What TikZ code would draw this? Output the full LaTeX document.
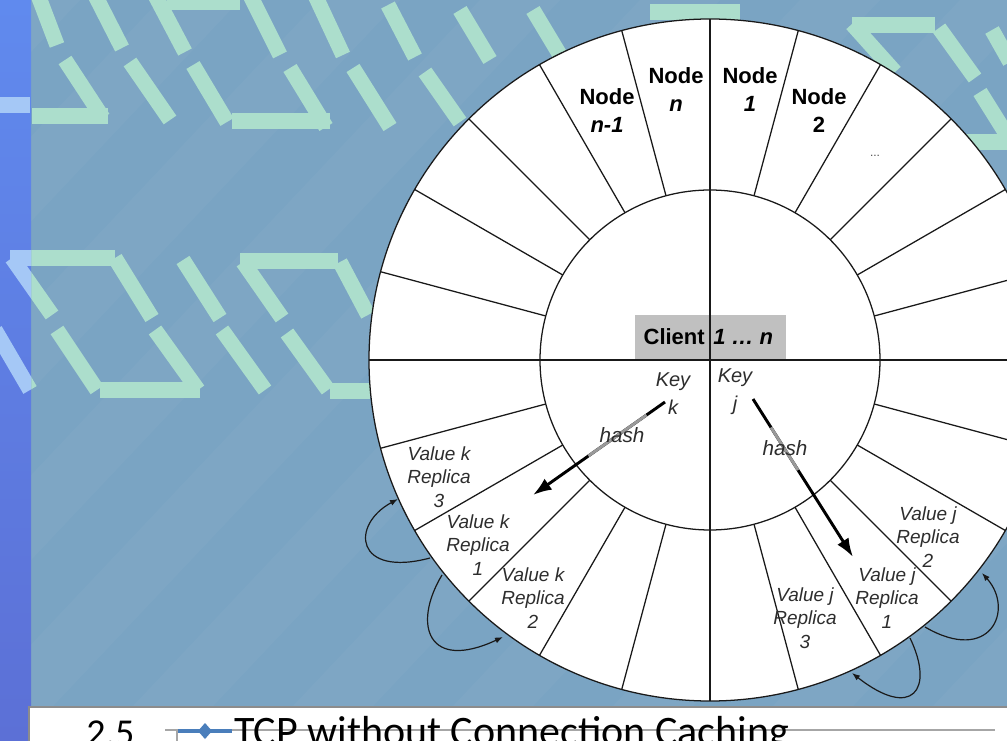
\documentclass[tikz,border=0pt]{standalone}
\usepackage{fontspec}
\setmainfont{Liberation Sans}
\newfontfamily\calib{Carlito}
\usetikzlibrary{arrows.meta,calc}
\definecolor{bgblue}{RGB}{122,164,195}
\definecolor{segg}{RGB}{172,222,204}
\definecolor{stripA}{RGB}{96,138,238}
\definecolor{stripB}{RGB}{92,112,214}
\definecolor{lseg}{RGB}{165,200,246}
\definecolor{ink}{RGB}{25,25,25}
\definecolor{txtg}{RGB}{45,45,45}
\definecolor{boxg}{RGB}{192,192,192}
\definecolor{tcpblue}{RGB}{74,126,187}
\definecolor{frameg}{RGB}{140,140,140}
\newcommand\bgsegments[1]{%
  \foreach \xa/\ya/\xb/\yb in {
     38/-5/57/45, 95/-5/122/48, 155/-5/185/52, 250/-5/280/55, 315/-5/343/55,
     388/5/415/57, 460/10/490/60, 533/10/560/55,
     65/60/103/118, 130/62/170/120, 193/65/227/122, 290/68/326/127,
     353/68/390/127, 425/72/460/122,
     32/116/108/116, 232/121/330/121, 167/2/240/2, 650/12/740/12,
     10/258/115/258, 240/261/338/261,
     12/258/52/315, 115/258/152/318, 183/260/220/318, 243/262/282/318, 340/262/368/315,
     57/330/97/390, 155/330/198/390, 222/330/265/390, 287/333/328/390,
     100/390/200/390, 330/391/370/391,
     852/25/935/25, 852/24/895/72, 939/28/975/78, 992/30/1010/62,
     980/92/1010/140, 965/142/1010/142,
     -10/105/30/105, -5/330/30/390}
  {\draw[bgseg,#1] (\xa,\ya) -- (\xb,\yb);}%
}
\begin{document}
\begin{tikzpicture}[x=0.75pt,y=-0.75pt,
  ring/.style={draw=ink,line width=0.95pt},
  nodelbl/.style={font=\fontsize{16.5pt}{21pt}\selectfont\bfseries, align=center, inner sep=0pt, text=black},
  vallbl/.style={font=\fontsize{14.25pt}{17.6pt}\selectfont\itshape, align=center, inner sep=0pt, text=txtg},
  keylbl/.style={font=\fontsize{15pt}{21pt}\selectfont\itshape, align=center, inner sep=0pt, text=txtg},
  hashlbl/.style={font=\fontsize{15.5pt}{18pt}\selectfont\itshape, inner sep=0pt, text=txtg},
  hasharrow/.style={line width=2.2pt, draw=black, -{Latex[length=14pt,width=10pt]}},
  hashfade/.style={line width=2.2pt, draw=black!40},
  looparrow/.style={line width=0.9pt, draw=ink, -{Latex[length=6pt,width=4.5pt]}},
  bgseg/.style={line width=11.5pt, line cap=butt}
]
\useasboundingbox (0,0) rectangle (1007,741);
\begin{scope}
\clip (0,0) rectangle (1007,741);
% background
\fill[bgblue] (0,0) rectangle (1007,741);
\foreach \d in {0,160,...,1600}{
  \fill[white,opacity=0.03] (\d-700,741) -- (\d-620,741) -- (\d+80,0) -- (\d,0) -- cycle;}
\bgsegments{draw=segg}
% left strip
\begin{scope}
\clip (0,0) rectangle (31,741);
\shade[top color=stripA,bottom color=stripB] (0,0) rectangle (31,741);
\bgsegments{draw=lseg}
\end{scope}

% ring
\coordinate (C) at (710,360);
\fill[white] (C) circle (255.75pt);
\foreach \a in {0,15,...,345}{
  \draw[ring] ($(C)+(\a:170)$) -- ($(C)+(\a:341)$);}
\draw[ring] (C) circle (255.75pt);
\draw[ring] (C) circle (127.5pt);
% client box
\fill[boxg] (635,315) rectangle (786,359);
\draw[draw=ink,line width=1.2pt] ($(C)+(180:341)$) -- ($(C)+(0:341)$);
\draw[draw=ink,line width=1.1pt] ($(C)+(90:341)$) -- ($(C)+(270:341)$);
\node[nodelbl,anchor=east] (cl) at (705,337) {Client};
\node[nodelbl,anchor=west] (cn) at (713,337) {\textit{1 … n}};

% node labels
\node[nodelbl] (nm1) at (607,111) {Node\\\textit{n-1}};
\node[nodelbl] (nn) at (676,90) {Node\\\textit{n}};
\node[nodelbl] (n1) at (750,90) {Node\\\textit{1}};
\node[nodelbl] (n2) at (819,111) {Node\\2};
\node[font=\fontsize{9pt}{10pt}\selectfont, text=black!70, inner sep=0pt] (dots) at (875,156) {...};

% keys
\node[keylbl] (kk) at (673,394) {Key\\k};
\node[keylbl] (kj) at (735,392) {Key\\j};

% value labels
\node[vallbl] (vk3) at (439,477) {Value k\\Replica\\3};
\node[vallbl] (vk1) at (478,545) {Value k\\Replica\\1};
\node[vallbl] (vk2) at (533,598) {Value k\\Replica\\2};
\node[vallbl] (vj2) at (928,537) {Value j\\Replica\\2};
\node[vallbl] (vj1) at (887,598) {Value j\\Replica\\1};
\node[vallbl] (vj3) at (805,618) {Value j\\Replica\\3};

% hash arrows
\coordinate (ks) at (665,402);
\coordinate (ke) at (533,495);
\coordinate (js) at (753,399);
\coordinate (je) at (853,557);
\draw[hasharrow] (ks) -- (ke);
\draw[hashfade] ($(ks)!0.14!(ke)$) -- ($(ks)!0.58!(ke)$);
\draw[hasharrow] (js) -- (je);
\draw[hashfade] ($(js)!0.18!(je)$) -- ($(js)!0.45!(je)$);
\node[hashlbl] (hk) at (622,435) {hash};
\node[hashlbl] (hj) at (785,448) {hash};

% replica loops
\coordinate (l1s) at (430,558);
\coordinate (l1e) at (398,499);
\coordinate (l2s) at (442,575);
\coordinate (l2e) at (503,637);
\coordinate (r1s) at (925,627);
\coordinate (r1e) at (982,573);
\coordinate (r2s) at (910,638);
\coordinate (r2e) at (852,673);
\draw[looparrow] (l1s) .. controls (355,578) and (350,525) .. (l1e);
\draw[looparrow] (l2s) .. controls (412,625) and (428,672) .. (l2e);
\draw[looparrow] (r1s) .. controls (990,665) and (1015,610) .. (r1e);
\draw[looparrow] (r2s) .. controls (935,690) and (912,720) .. (r2e);

% bottom chart strip
\fill[white] (29,707) rectangle (1007,741);
\draw[draw=frameg,line width=1.6pt] (29,745) -- (29,707) -- (1010,707);
\draw[draw=black!35,line width=0.8pt] (165,730) -- (995,730);
\draw[draw=black!35,line width=0.8pt] (177,730) -- (177,745);
\node[font=\calib\fontsize{28.5pt}{30pt}\selectfont, anchor=base west, inner sep=0pt] (yl) at (86,745) {2.5};
\draw[tcpblue,line width=3pt] (178,731) -- (232,731);
\fill[tcpblue] (205,723) -- (212,731) -- (205,739) -- (198,731) -- cycle;
\node[font=\calib\fontsize{31.5pt}{33pt}\selectfont, anchor=base west, inner sep=0pt] (leg) at (234,745) {TCP without Connection Caching};
\end{scope}
\end{tikzpicture}
\end{document}
